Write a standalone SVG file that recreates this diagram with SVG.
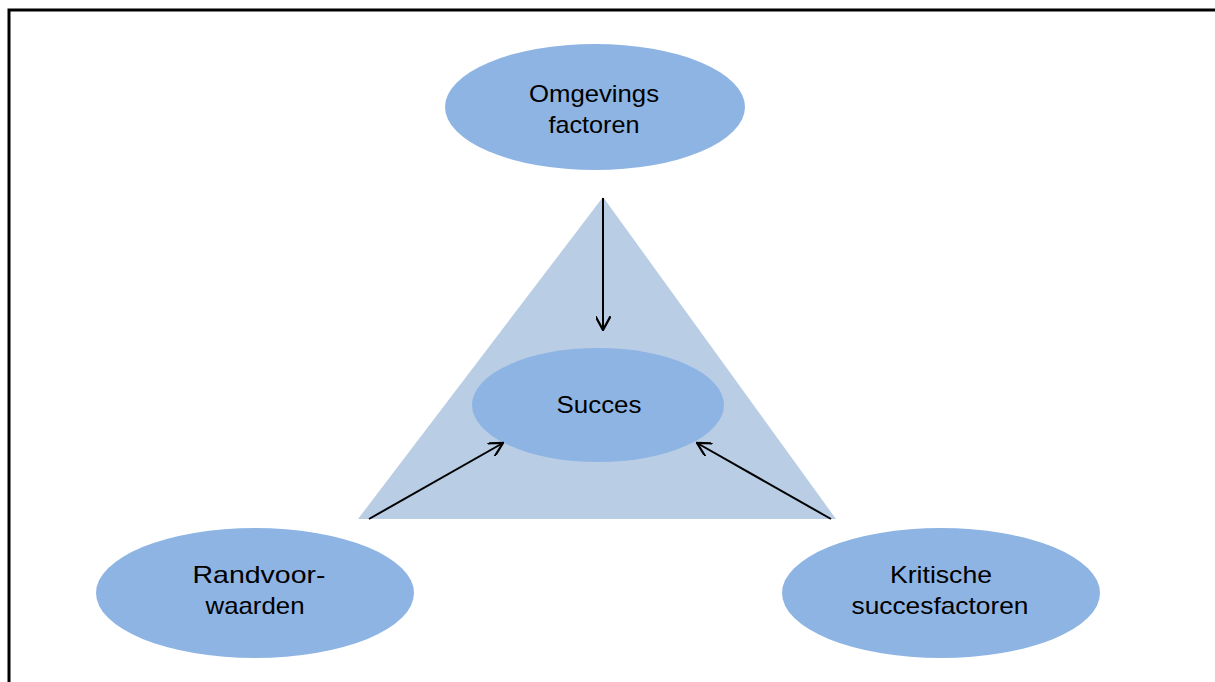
<svg xmlns="http://www.w3.org/2000/svg" width="1215" height="682" viewBox="0 0 1215 682">
  <style>
    .node { fill: #8EB4E3; }
    .label { font-family: "Liberation Sans", Arial, sans-serif; font-size: 24px; fill: #000; text-anchor: middle; }
    .conn { stroke: #000; stroke-width: 2; fill: none; marker-end: url(#open); }
  </style>
  <defs>
    <marker id="open" viewBox="0 0 12 12" refX="11" refY="6" markerWidth="15" markerHeight="15" markerUnits="userSpaceOnUse" orient="auto">
      <path d="M0,0 L11,6 L0,12" fill="none" stroke="#000" stroke-width="1.8"/>
    </marker>
  </defs>
  <rect x="0" y="0" width="1215" height="682" fill="#fff"/>
  <!-- frame -->
  <path d="M9,682 V10 H1215" fill="none" stroke="#000" stroke-width="3"/>
  <!-- backdrop triangle -->
  <polygon points="603,197 358,519 836,519" fill="#B9CDE5"/>
  <g id="omgevings">
    <ellipse class="node" cx="595" cy="107" rx="150" ry="63"/>
    <text class="label" x="594" y="102" textLength="130" lengthAdjust="spacingAndGlyphs">Omgevings</text>
    <text class="label" x="594" y="133" textLength="91" lengthAdjust="spacingAndGlyphs">factoren</text>
  </g>
  <g id="succes">
    <ellipse class="node" cx="598" cy="405" rx="126" ry="57"/>
    <text class="label" x="599" y="413" textLength="85" lengthAdjust="spacingAndGlyphs">Succes</text>
  </g>
  <g id="randvoorwaarden">
    <ellipse class="node" cx="255" cy="593" rx="159" ry="65"/>
    <text class="label" x="259" y="583" textLength="133" lengthAdjust="spacingAndGlyphs">Randvoor-</text>
    <text class="label" x="255" y="614" textLength="99" lengthAdjust="spacingAndGlyphs">waarden</text>
  </g>
  <g id="kritische">
    <ellipse class="node" cx="941" cy="593" rx="159" ry="65"/>
    <text class="label" x="941" y="583" textLength="102" lengthAdjust="spacingAndGlyphs">Kritische</text>
    <text class="label" x="940" y="614" textLength="177" lengthAdjust="spacingAndGlyphs">succesfactoren</text>
  </g>
  <g id="connectors">
    <line class="conn" x1="603" y1="198" x2="603" y2="330"/>
    <line class="conn" x1="369" y1="519" x2="503" y2="443"/>
    <line class="conn" x1="831" y1="519" x2="697" y2="443"/>
  </g>
</svg>
